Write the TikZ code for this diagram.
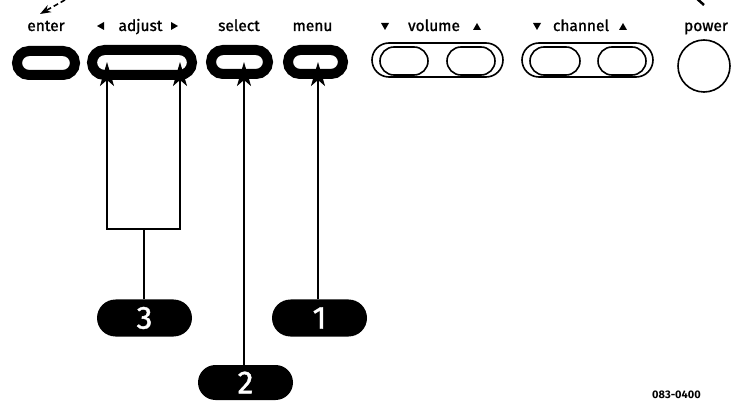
\documentclass[tikz,border=0pt]{standalone}
\usepackage{fontspec}
\setmainfont{Fira Sans}
\newfontfamily\lblfont[FakeBold=1.2]{Fira Sans}
\usetikzlibrary{shapes.misc,arrows.meta}
\begin{document}
\begin{tikzpicture}[x=1pt,y=-1pt,
  thickbtn/.style={rounded rectangle, draw=black, line width=10pt, inner sep=0pt},
  thinbtn/.style={rounded rectangle, draw=black, line width=1.6pt, inner sep=0pt},
  lbl/.style={anchor=base, inner sep=0pt, font=\lblfont\fontsize{15.5}{18}\selectfont},
  badge/.style={rounded rectangle, fill=black, text=white, minimum width=95pt, minimum height=37pt, inner sep=0pt, font=\lblfont\fontsize{32}{35}\selectfont},
  conn/.style={line width=2pt},
  arr/.style={line width=2pt, -{Stealth[length=24pt, width=14pt, inset=6pt]}},
  tri/.style={fill=black}]
\useasboundingbox (0,0) rectangle (740,401);
\fill[white] (0,0) rectangle (740,401);

% labels
\node[lbl] (lenter) at (46,31) {enter};
\node[lbl] (ladjust) at (140.5,31) {adjust};
\node[lbl] (lselect) at (239,31) {select};
\node[lbl] (lmenu) at (312.5,31) {menu};
\node[lbl] (lvolume) at (434,31) {volume};
\node[lbl] (lchannel) at (581,31) {channel};
\node[lbl] (lpower) at (706,31) {power};

% small triangles
\fill[tri] (97,26) -- (104,22) -- (104,30) -- cycle;
\fill[tri] (178,26) -- (171,22) -- (171,30) -- cycle;
\fill[tri] (381,23) -- (389,23) -- (385,30) -- cycle;
\fill[tri] (473,30) -- (481,30) -- (477,23) -- cycle;
\fill[tri] (533,23) -- (541,23) -- (537,30) -- cycle;
\fill[tri] (619,30) -- (627,30) -- (623,23) -- cycle;

% cropped pointers at top
\draw[line width=1.6pt, dash pattern=on 5pt off 3pt, -{Stealth[length=11pt,width=8pt]}] (72,-4) -- (40,14);
\draw[line width=2.5pt] (695,-3) .. controls (699,1) .. (704,5);

% thick buttons
\node[thickbtn, minimum width=58pt, minimum height=24pt] (enter) at (46,63) {};
\node[thickbtn, minimum width=100pt, minimum height=25pt] (adjust) at (142,62.5) {};
\node[thickbtn, minimum width=57pt, minimum height=24pt] (select) at (239.5,62) {};
\node[thickbtn, minimum width=55pt, minimum height=24pt] (menu) at (315.5,62) {};

% volume group
\node[thinbtn, minimum width=131pt, minimum height=34pt] (volume) at (437.5,60) {};
\node[thinbtn, minimum width=48pt, minimum height=28pt] (voldown) at (404,61) {};
\node[thinbtn, minimum width=48pt, minimum height=28pt] (volup) at (471,61) {};

% channel group
\node[thinbtn, minimum width=131pt, minimum height=34pt] (channel) at (587.5,60) {};
\node[thinbtn, minimum width=50pt, minimum height=28pt] (chdown) at (555,61) {};
\node[thinbtn, minimum width=48pt, minimum height=28pt] (chup) at (622,61) {};

% power
\node[circle, draw=black, line width=1.6pt, minimum size=52pt, inner sep=0pt] (power) at (704,66) {};

% badges
\node[badge] (b3) at (144.5,318) {3};
\node[badge] (b1) at (319.5,318) {1};
\node[badge, minimum height=35pt] (b2) at (245.5,382.5) {2};

% connectors
\coordinate (bl) at (107,229);
\coordinate (br) at (180,229);
\coordinate (bm) at (143.5,229);
\coordinate (tl) at (107,62);
\coordinate (tr) at (180,62);
\coordinate (t2) at (244,62);
\coordinate (t1) at (318,62);
\draw[conn] (b3.north -| bm) -- (bm);
\draw[conn, line cap=rect] (bl) -- (br);
\draw[arr] (bl) -- (tl);
\draw[arr] (br) -- (tr);
\draw[arr] (b2.north -| t2) -- (t2);
\draw[arr] (b1.north -| t1) -- (t1);

% figure number
\node[anchor=base west, inner sep=0pt, font=\bfseries\fontsize{11}{13}\selectfont] (fignum) at (652,398) {083-0400};
\end{tikzpicture}
\end{document}
